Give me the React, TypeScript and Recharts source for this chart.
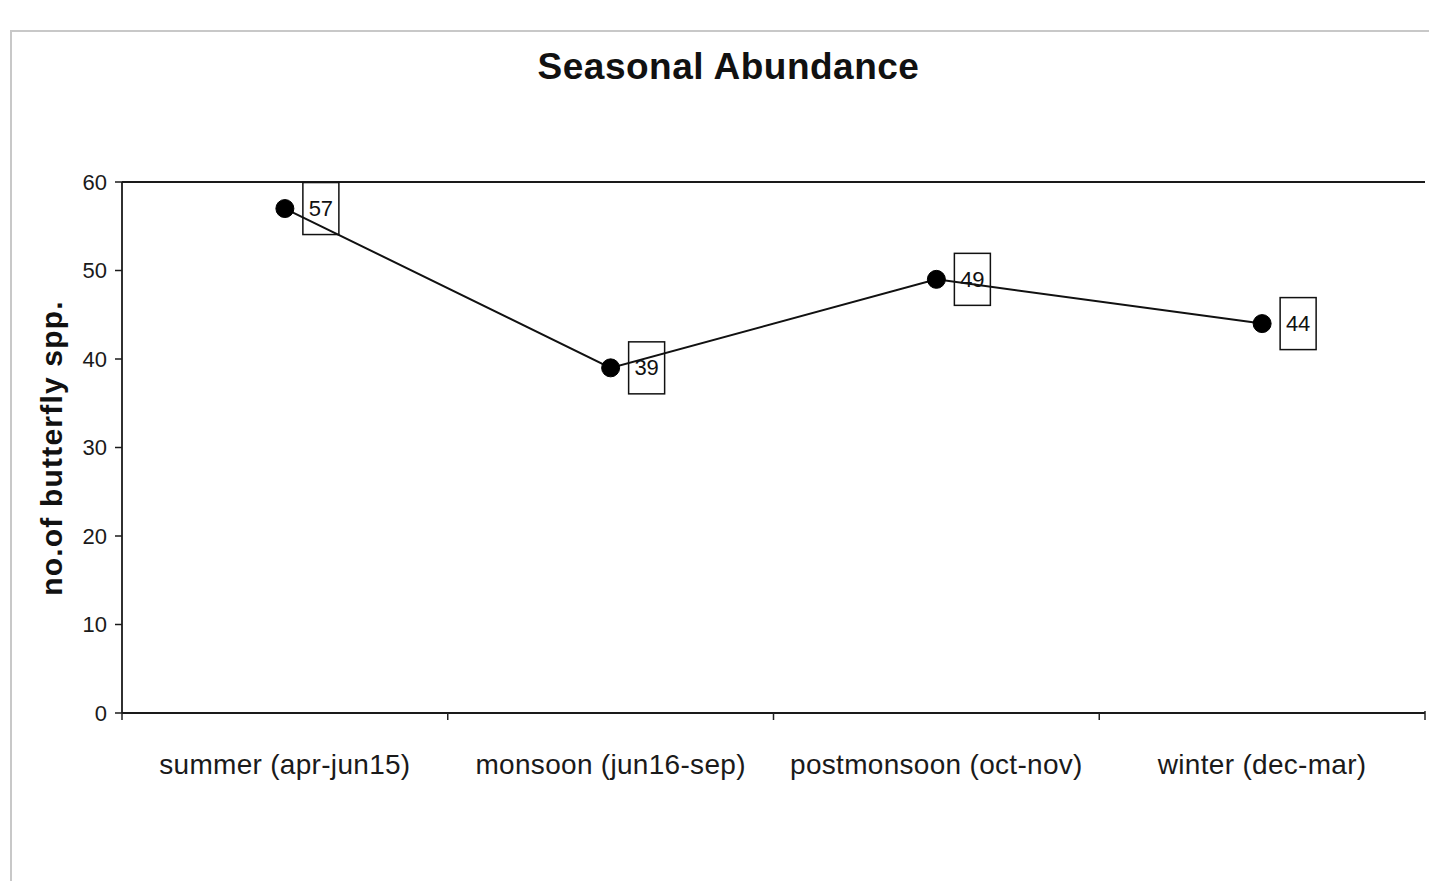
import React from "react";
import { LineChart, Line, XAxis, YAxis, CartesianGrid, LabelList } from "recharts";

// seasons and species counts
const seasons = ["summer (apr-jun15)", "monsoon (jun16-sep)", "postmonsoon (oct-nov)", "winter (dec-mar)"];
const speciesCount = [57, 39, 49, 44];
const yTicks = [0, 10, 20, 30, 40, 50, 60];

const data = seasons.map((s, i) => ({ season: s, count: speciesCount[i] }));

const W = 1437;
const H = 889;
const PLOT_LEFT = 122;
const PLOT_RIGHT = 1425;
const PLOT_BOTTOM = 713;
const BAND = (PLOT_RIGHT - PLOT_LEFT) / seasons.length;
const FONT = '"Liberation Sans", Arial, Helvetica, sans-serif';

// category label plus a tick mark at the band boundary (Excel style)
const SeasonTick = (props: any) => {
  const { x, payload, index } = props;
  return (
    <g>
      <line x1={x - BAND / 2} x2={x - BAND / 2} y1={PLOT_BOTTOM} y2={PLOT_BOTTOM + 7} stroke="#222" strokeWidth={1.5} />
      {index === seasons.length - 1 && (
        <line x1={x + BAND / 2} x2={x + BAND / 2} y1={PLOT_BOTTOM - 2} y2={PLOT_BOTTOM + 7} stroke="#222" strokeWidth={1.5} />
      )}
      <text x={x} y={PLOT_BOTTOM + 61} textAnchor="middle" fontSize={28} letterSpacing={0.3} fill="#1a1a1a" fontFamily={FONT}>
        {payload.value}
      </text>
    </g>
  );
};

// boxed data label to the right of each point
const BoxLabel = (props: any) => {
  const { x, y, value } = props;
  return (
    <g>
      <rect x={x + 18} y={y - 26} width={36} height={52} fill="none" stroke="#111" strokeWidth={1.5} />
      <text x={x + 36} y={y} textAnchor="middle" dominantBaseline="central" fontSize={22} fill="#111" fontFamily={FONT}>
        {value}
      </text>
    </g>
  );
};

export default function App() {
  return (
    <div style={{ position: "relative", width: W, height: H, margin: -8, background: "#fff", overflow: "hidden" }}>
      <div
        style={{
          position: "absolute",
          left: 10,
          top: 30,
          width: W,
          height: 856,
          border: "2px solid #c8c8c8",
          boxSizing: "border-box",
        }}
      />
      <div
        style={{
          position: "absolute",
          left: 0,
          width: W,
          top: 46,
          textAlign: "center",
          fontFamily: FONT,
          fontWeight: "bold",
          fontSize: 37,
          letterSpacing: 0.5,
          color: "#111",
          paddingLeft: 10,
        }}
      >
        Seasonal Abundance
      </div>
      <div style={{ position: "absolute", left: 0, top: 0 }}>
        <LineChart width={W} height={H} data={data} margin={{ top: 182, right: 12, bottom: 116, left: 62 }}>
          <CartesianGrid horizontal vertical={false} stroke="#1a1a1a" strokeWidth={1.8} />
          <XAxis
            dataKey="season"
            scale="band"
            height={60}
            axisLine={{ stroke: "#1a1a1a", strokeWidth: 1.8 }}
            tickLine={false}
            tick={<SeasonTick />}
            interval={0}
          />
          <YAxis
            yAxisId="left"
            domain={[0, 60]}
            ticks={yTicks}
            width={60}
            axisLine={{ stroke: "#1a1a1a", strokeWidth: 1.8 }}
            tickLine={{ stroke: "#1a1a1a", strokeWidth: 1.5 }}
            tickSize={7}
            tickMargin={8}
            tick={{ fontSize: 22, fill: "#1a1a1a", fontFamily: FONT }}
            label={{
              content: () => (
                <text
                  x={51}
                  y={448}
                  transform="rotate(-90 51 448)"
                  textAnchor="middle"
                  dominantBaseline="central"
                  fontSize={30}
                  fontWeight="bold"
                  letterSpacing={1.2}
                  fill="#111"
                  fontFamily={FONT}
                >
                  no.of butterfly spp.
                </text>
              ),
            }}
          />
          <YAxis
            yAxisId="right"
            orientation="right"
            domain={[0, 60]}
            width={0}
            tick={false}
            tickLine={false}
            axisLine={{ stroke: "#1a1a1a", strokeWidth: 1.8 }}
          />
          <Line
            yAxisId="left"
            dataKey="count"
            type="linear"
            stroke="#111"
            strokeWidth={2}
            dot={{ r: 9, fill: "#000", stroke: "#000", strokeWidth: 1 }}
            isAnimationActive={false}
          >
            <LabelList dataKey="count" content={<BoxLabel />} />
          </Line>
        </LineChart>
      </div>
    </div>
  );
}
